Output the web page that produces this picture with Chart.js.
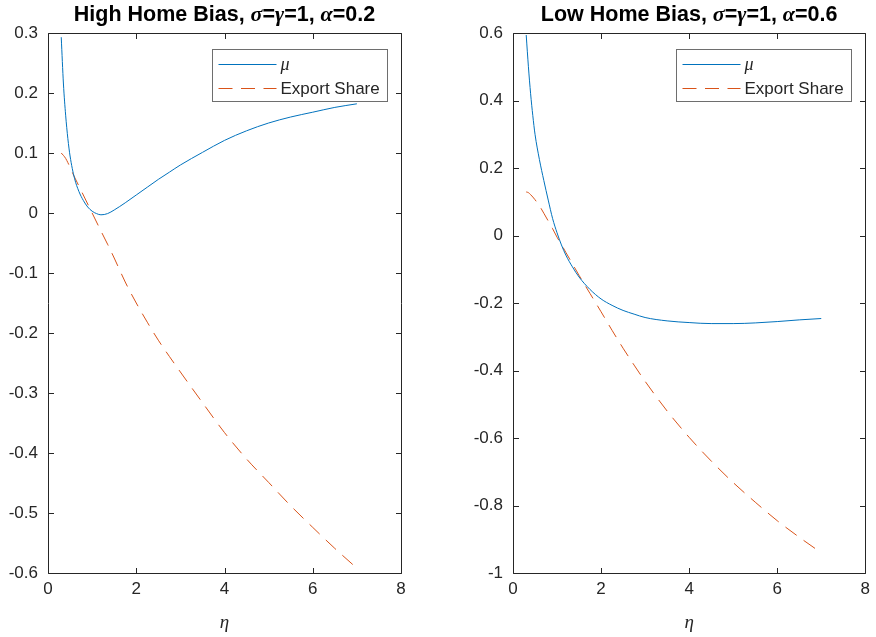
<!DOCTYPE html>
<html>
<head>
<meta charset="utf-8">
<script src="https://cdn.jsdelivr.net/npm/chart.js@4.4.1/dist/chart.umd.min.js"></script>
<style>
  html, body { margin: 0; padding: 0; background: #fff; }
  #wrap { position: relative; width: 876px; height: 637px; }
  canvas { position: absolute; top: 0; }
</style>
</head>
<body>
<div id="wrap">
  <canvas id="left" width="440" height="637" style="left:0;width:440px;height:637px"></canvas>
  <canvas id="right" width="436" height="637" style="left:440px;width:436px;height:637px"></canvas>
</div>
<script>
// eta grid shared by both panels
const eta = [0.3, 0.35, 0.4, 0.45, 0.5, 0.6, 0.7, 0.8, 0.9, 1.0, 1.1, 1.2, 1.35, 1.5,
             1.75, 2.0, 2.25, 2.5, 2.75, 3.0, 3.5, 4.0, 4.5, 5.0, 5.5, 6.0, 6.5, 7.0];

// high home bias, alpha = 0.2
const muHigh = [0.293, 0.215, 0.163, 0.124, 0.095, 0.058, 0.036, 0.021, 0.010, 0.003, -0.001, -0.003, -0.001, 0.005,
                0.017, 0.030, 0.043, 0.056, 0.068, 0.080, 0.101, 0.121, 0.137, 0.150, 0.160, 0.168, 0.176, 0.182];
const exportHigh = [0.100, 0.096, 0.091, 0.084, 0.076, 0.060, 0.045, 0.030, 0.015, 0.000, -0.015, -0.030, -0.052, -0.075,
                    -0.115, -0.150, -0.182, -0.212, -0.239, -0.265, -0.316, -0.366, -0.410, -0.449, -0.488, -0.524, -0.559, -0.592];

// low home bias, alpha = 0.6
const muLow = [0.594, 0.500, 0.420, 0.355, 0.300, 0.225, 0.163, 0.105, 0.050, 0.008, -0.028, -0.058, -0.093, -0.123,
               -0.160, -0.188, -0.207, -0.222, -0.233, -0.243, -0.253, -0.258, -0.261, -0.261, -0.259, -0.255, -0.250, -0.246];
const exportLow = [0.129, 0.127, 0.121, 0.114, 0.106, 0.088, 0.066, 0.043, 0.020, -0.005, -0.027, -0.050, -0.084, -0.118,
                   -0.172, -0.226, -0.281, -0.334, -0.384, -0.432, -0.520, -0.598, -0.668, -0.732, -0.790, -0.845, -0.894, -0.940];

const xTicks = { min: 0, max: 8, step: 2 };
const yHigh = { min: -0.6, max: 0.3, step: 0.1 };
const yLow = { min: -1, max: 0.6, step: 0.2 };

const FONT = '"Liberation Sans", Arial, Helvetica, sans-serif';
const SERIF = '"Liberation Serif", "Times New Roman", serif';
const INK = '#262626';
const BLUE = '#0072BD';
const ORANGE = '#D95319';
const DASH = [14, 8.5];

function pts(xs, ys) {
  return xs.map((x, i) => ({ x: x, y: ys[i] }));
}

function makePanel(id, cfg) {
  // frame with inward ticks, title and legend, drawn the matlab way
  const decor = {
    id: 'decor',
    afterDatasetsDraw(chart) {
      const ctx = chart.ctx;
      const a = chart.chartArea;
      const sx = chart.scales.x, sy = chart.scales.y;
      const L = Math.round(a.left) + 0.5, R = Math.round(a.right) + 0.5;
      const T = Math.round(a.top) + 0.5, B = Math.round(a.bottom) + 0.5;
      const tl = 5.5;
      ctx.save();
      ctx.strokeStyle = INK;
      ctx.lineWidth = 1;
      ctx.setLineDash([]);
      ctx.beginPath();
      ctx.rect(L, T, R - L, B - T);
      sx.ticks.forEach(t => {
        const p = Math.round(sx.getPixelForValue(t.value)) + 0.5;
        ctx.moveTo(p, B); ctx.lineTo(p, B - tl);
        ctx.moveTo(p, T); ctx.lineTo(p, T + tl);
      });
      sy.ticks.forEach(t => {
        const p = Math.round(sy.getPixelForValue(t.value)) + 0.5;
        ctx.moveTo(L, p); ctx.lineTo(L + tl, p);
        ctx.moveTo(R, p); ctx.lineTo(R - tl, p);
      });
      ctx.stroke();

      // title
      const cx = (a.left + a.right) / 2;
      const parts = cfg.title;
      let total = 0;
      parts.forEach(pt => { ctx.font = pt.font; total += ctx.measureText(pt.text).width; });
      let tx = cx - total / 2;
      ctx.fillStyle = '#000';
      ctx.textBaseline = 'middle';
      ctx.textAlign = 'left';
      parts.forEach(pt => {
        ctx.font = pt.font;
        ctx.fillText(pt.text, tx, 15);
        tx += ctx.measureText(pt.text).width;
      });

      // legend
      const bw = 175, bh = 52;
      const bx = Math.round(a.right - 14 - bw) + 0.5, by = Math.round(a.top + 16) + 0.5;
      ctx.fillStyle = '#fff';
      ctx.fillRect(bx, by, bw, bh);
      ctx.strokeStyle = '#6e6e6e';
      ctx.strokeRect(bx, by, bw, bh);
      chart.data.datasets.forEach((ds, i) => {
        const ry = Math.round(by + 14 + i * 24) + 0.5;
        ctx.strokeStyle = ds.borderColor;
        ctx.lineWidth = 1;
        ctx.setLineDash(ds.borderDash || []);
        ctx.beginPath();
        ctx.moveTo(bx + 6, ry);
        ctx.lineTo(bx + 64, ry);
        ctx.stroke();
        ctx.setLineDash([]);
        ctx.fillStyle = INK;
        ctx.font = ds.labelItalic ? 'italic 18px ' + SERIF : '17px ' + FONT;
        ctx.textBaseline = 'middle';
        ctx.fillText(ds.label, bx + 68, ry + 1);
      });
      ctx.restore();
    }
  };

  const fmt = v => String(Number(v.toFixed(1)));

  return new Chart(document.getElementById(id), {
    type: 'line',
    data: {
      datasets: [
        { label: 'μ', labelItalic: true, data: pts(eta, cfg.mu), borderColor: BLUE, borderWidth: 1 },
        { label: 'Export Share', data: pts(eta, cfg.share), borderColor: ORANGE, borderWidth: 1, borderDash: DASH }
      ]
    },
    options: {
      responsive: false,
      animation: false,
      layout: { padding: { top: 33, right: cfg.padRight, left: 0, bottom: 0 } },
      elements: {
        point: { radius: 0 },
        line: { cubicInterpolationMode: 'monotone', fill: false }
      },
      plugins: {
        legend: { display: false },
        tooltip: { enabled: false },
        title: { display: false }
      },
      scales: {
        x: {
          type: 'linear',
          min: xTicks.min, max: xTicks.max,
          ticks: { stepSize: xTicks.step, color: INK, font: { family: FONT, size: 17 }, padding: 6, maxRotation: 0 },
          grid: { display: false, drawTicks: false },
          border: { display: false },
          title: { display: true, text: 'η', color: INK, font: { family: SERIF, size: 19, style: 'italic' }, padding: { top: 0, bottom: 3 } },
          afterFit(s) { s.height = 64; }
        },
        y: {
          type: 'linear',
          min: cfg.y.min, max: cfg.y.max,
          ticks: { stepSize: cfg.y.step, color: INK, font: { family: FONT, size: 17 }, padding: 10, callback: fmt },
          grid: { display: false, drawTicks: false },
          border: { display: false },
          afterFit(s) { s.width = cfg.yWidth; }
        }
      }
    },
    plugins: [decor]
  });
}

const bold = 'bold 21.5px ' + FONT;
const boldGreek = 'italic bold 22px ' + SERIF;

makePanel('left', {
  mu: muHigh, share: exportHigh, y: yHigh, yWidth: 48, padRight: 39,
  title: [
    { text: 'High Home Bias, ', font: bold },
    { text: 'σ', font: boldGreek },
    { text: '=', font: bold },
    { text: 'γ', font: boldGreek },
    { text: '=1, ', font: bold },
    { text: 'α', font: boldGreek },
    { text: '=0.2', font: bold }
  ]
});

makePanel('right', {
  mu: muLow, share: exportLow, y: yLow, yWidth: 73, padRight: 9,
  title: [
    { text: 'Low Home Bias, ', font: bold },
    { text: 'σ', font: boldGreek },
    { text: '=', font: bold },
    { text: 'γ', font: boldGreek },
    { text: '=1, ', font: bold },
    { text: 'α', font: boldGreek },
    { text: '=0.6', font: bold }
  ]
});
</script>
</body>
</html>
